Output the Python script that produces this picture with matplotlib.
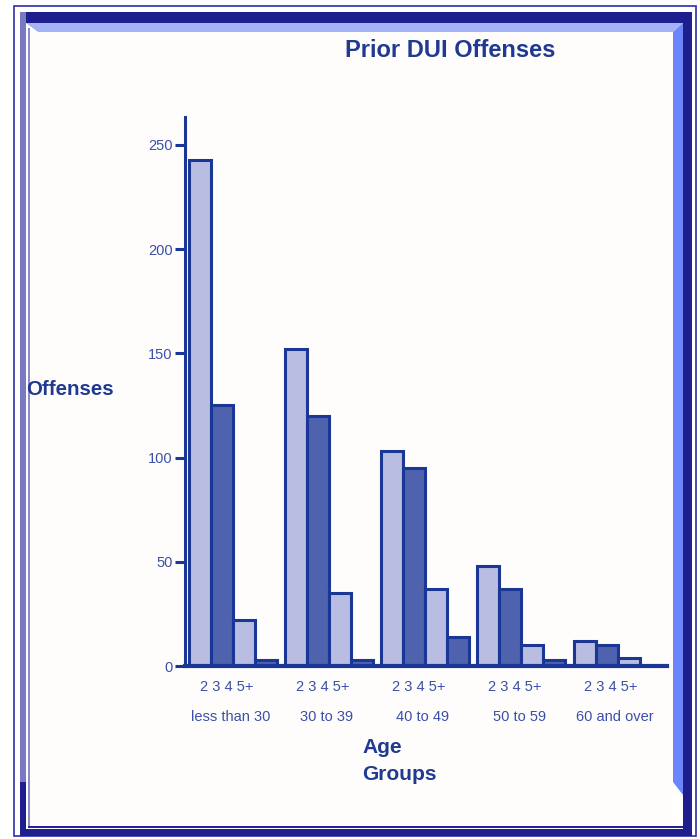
import matplotlib
matplotlib.use("Agg")
import matplotlib.pyplot as plt
from matplotlib.patches import Rectangle, Polygon
import numpy as np

plt.rcParams["font.family"] = ["Liberation Sans", "DejaVu Sans"]

# Prior DUI offenses by age group, split by number of prior offenses
age_groups = ["less than 30", "30 to 39", "40 to 49", "50 to 59", "60 and over"]
prior_counts = ["2", "3", "4", "5+"]
two_priors = [243, 152, 103, 48, 12]
three_priors = [125, 120, 95, 37, 10]
four_priors = [22, 35, 37, 10, 4]
five_plus_priors = [3, 3, 14, 3, 0]
y_ticks = [0, 50, 100, 150, 200, 250]

series = [two_priors, three_priors, four_priors, five_plus_priors]

W, H = 700, 839
fig = plt.figure(figsize=(W / 100, H / 100), dpi=100)
fig.patch.set_facecolor("white")

# ---- decorative frame drawn in pixel space ----
bg = fig.add_axes([0, 0, 1, 1])
bg.set_xlim(0, W)
bg.set_ylim(H, 0)
bg.axis("off")

navy = "#1e1e8e"
lav = "#7a7ac2"
light_top = "#a3b3f5"
light_right = "#6a86fa"

bg.add_patch(Rectangle((14, 6), 682, 830, fill=False, edgecolor="#2e2eaa", lw=1.2))
# outer bevel band
bg.add_patch(Rectangle((20, 12), 672, 11, color=navy, lw=0))
bg.add_patch(Rectangle((683, 12), 9, 824, color=navy, lw=0))
bg.add_patch(Rectangle((20, 829), 672, 7, color=navy, lw=0))
bg.add_patch(Rectangle((20, 12), 6, 770, color=lav, lw=0))
bg.add_patch(Polygon([(20, 782), (26, 782), (26, 836), (20, 836)], color=navy, lw=0))
# inner bevel
bg.add_patch(Polygon([(26, 23), (683, 23), (673, 32), (38, 32)], color=light_top, lw=0))
bg.add_patch(Polygon([(673, 32), (683, 23), (683, 795), (673, 782)], color=light_right, lw=0))
bg.add_patch(Rectangle((28, 28), 2.2, 800, color="#8c8cca", lw=0))
# interior
bg.add_patch(Rectangle((30.2, 32), 642.8, 794, color="#fefdfc", lw=0))
bg.add_patch(Rectangle((28, 826), 655, 2.2, color="#23239c", lw=0))

# ---- chart ----
edge = "#1a3795"
fill_light = "#b9bde1"
fill_dark = "#4f62ae"
text_blue = "#1f3a90"
tick_blue = "#3a50a8"

ax_l, ax_r, ax_t, ax_b = 185, 667, 117, 666
ax = fig.add_axes([ax_l / W, (H - ax_b) / H, (ax_r - ax_l) / W, (ax_b - ax_t) / H])
ax.patch.set_alpha(0)

group_step = 4.37
fills = [fill_light, fill_dark, fill_light, fill_dark]
for k, vals in enumerate(series):
    xs = np.arange(len(age_groups)) * group_step + k
    ax.bar(xs, vals, width=1.0, align="edge", color=fills[k],
           edgecolor=edge, linewidth=2.2, zorder=3)

ax.set_xlim(-0.18, 21.73)
ax.set_ylim(0, 263.4)

for s in ["top", "right"]:
    ax.spines[s].set_visible(False)
ax.spines["left"].set_color(edge)
ax.spines["left"].set_linewidth(2.2)
ax.spines["bottom"].set_color(edge)
ax.spines["bottom"].set_linewidth(3.0)
ax.spines["bottom"].set_zorder(4)

ax.set_xticks([])
ax.set_yticks(y_ticks)
ax.tick_params(axis="y", direction="out", length=7, width=2.2, color=edge,
               labelcolor=tick_blue, labelsize=10.5, pad=2)

prior_label = " ".join(prior_counts)
for g, name in enumerate(age_groups):
    x0 = g * group_step
    ax.annotate(prior_label, xy=(x0 + 1.7, 0), xycoords=("data", "axes fraction"),
                xytext=(0, -21 * 0.72), textcoords="offset points",
                ha="center", va="center", fontsize=10.5, color=tick_blue)
    ax.annotate(name, xy=(x0 + 1.9, 0), xycoords=("data", "axes fraction"),
                xytext=(0, -51 * 0.72), textcoords="offset points",
                ha="center", va="center", fontsize=10.5, color=tick_blue)

fig.text(345 / W, 1 - 57 / H, "Prior DUI Offenses", ha="left", va="baseline",
         fontsize=17, fontweight="bold", color=text_blue)
fig.text(26 / W, 1 - 395 / H, "Offenses", ha="left", va="baseline",
         fontsize=14.8, fontweight="bold", color=text_blue)
fig.text(362 / W, 1 - 753 / H, "Age", ha="left", va="baseline",
         fontsize=15, fontweight="bold", color=text_blue)
fig.text(362 / W, 1 - 780 / H, "Groups", ha="left", va="baseline",
         fontsize=15, fontweight="bold", color=text_blue)

fig.savefig("out.png", dpi=100)
